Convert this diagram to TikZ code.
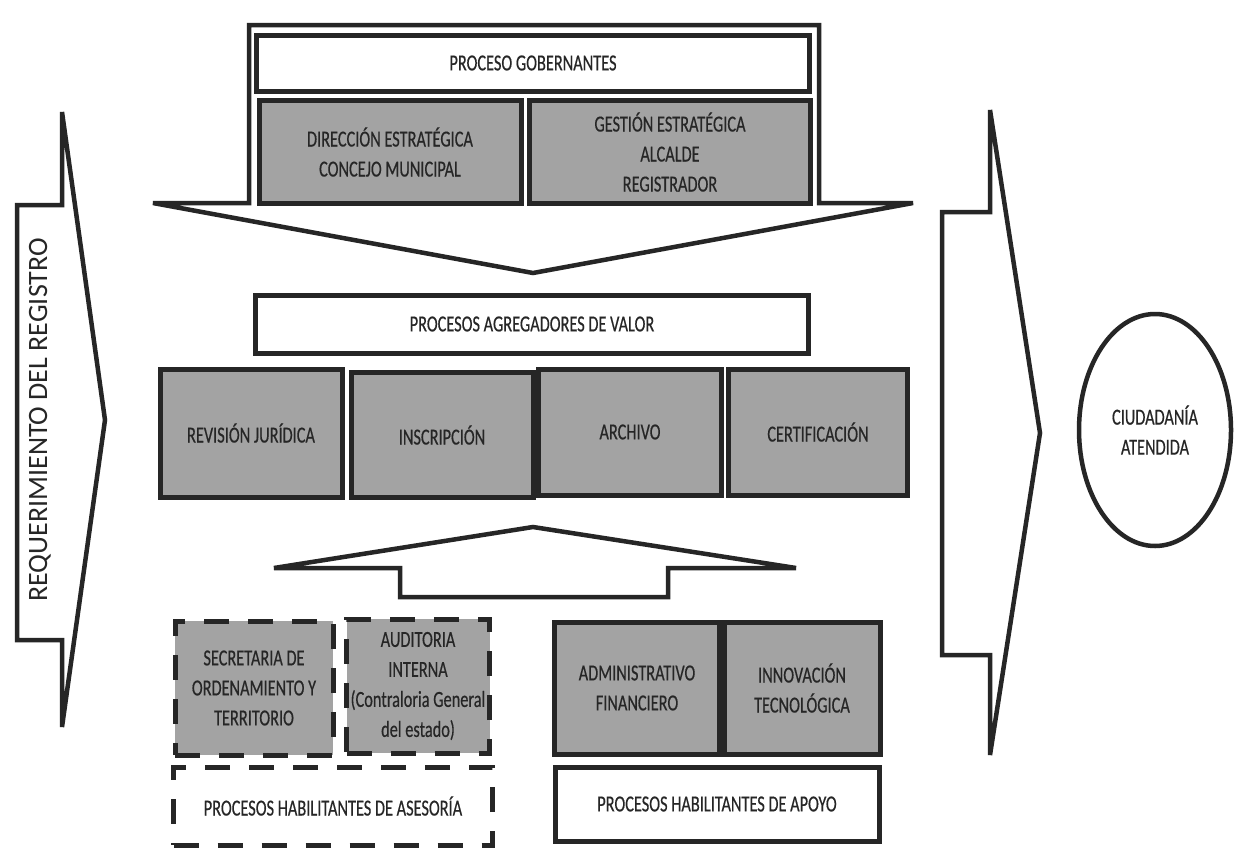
\documentclass[tikz,border=0pt]{standalone}
\usepackage{fontspec}
\setmainfont{Carlito}
\newfontfamily\condfont[FakeStretch=0.71, FakeBold=0.4]{Carlito}
\usetikzlibrary{shapes.geometric}
\definecolor{ink}{HTML}{262626}
\definecolor{boxgray}{HTML}{A3A3A3}
\tikzset{
  lbl/.style={font=\condfont\fontsize{23}{30}\selectfont, text=ink, align=center},
  gbox/.style={lbl, draw=ink, line width=5pt, fill=boxgray, inner sep=0pt},
  wbox/.style={lbl, draw=ink, line width=5pt, fill=white, inner sep=0pt},
  dgbox/.style={gbox, dash pattern=on 25pt off 19pt},
  dwbox/.style={wbox, dash pattern=on 25pt off 19pt},
  blockarrow/.style={draw=ink, line width=4.5pt, fill=white},
}
\begin{document}
\begin{tikzpicture}[x=1pt, y=-1pt]
\useasboundingbox (0,0) rectangle (1239,854);
\fill[white] (0,0) rectangle (1239,854);

% left block arrow
\draw[blockarrow] (17,205) -- (62,205) -- (62,112) -- (105,420) coordinate (ltip) -- (62,727) -- (62,640) -- (17,640) -- cycle;
\node[font=\fontsize{28}{30}\selectfont, text=ink, rotate=90] (req) at (40,420) {REQUERIMIENTO DEL REGISTRO};

% right block arrow
\draw[blockarrow] (942,212) -- (990,212) -- (990,110) -- (1040,433) coordinate (rtip) -- (990,755) -- (990,655) -- (942,655) -- cycle;

% citizen ellipse
\node[lbl, ellipse, draw=ink, line width=4.5pt, minimum width=152, minimum height=232, inner sep=0pt] (cit) at (1155,430) {CIUDADANÍA\\ATENDIDA};

% top down block arrow (governing processes)
\draw[blockarrow] (249,25) -- (819,25) -- (819,203) -- (913,203) -- (533,273) coordinate (dtip) -- (153,203) -- (249,203) -- cycle;
\node[wbox, minimum width=553, minimum height=56] (pg) at (533,63) {PROCESO GOBERNANTES};
\node[gbox, minimum width=262, minimum height=103] (de) at (390,152) {DIRECCIÓN ESTRATÉGICA\\CONCEJO MUNICIPAL};
\node[gbox, minimum width=281, minimum height=103] (ge) at (670,152) {GESTIÓN ESTRATÉGICA\\ALCALDE\\REGISTRADOR};

% value processes
\node[wbox, minimum width=553, minimum height=58] (pav) at (532,324) {PROCESOS AGREGADORES DE VALOR};
\node[gbox, minimum width=182, minimum height=128] (rj) at (251,433) {REVISIÓN JURÍDICA};
\node[gbox, minimum width=182, minimum height=125] (ins) at (442,435) {INSCRIPCIÓN};
\node[gbox, minimum width=183, minimum height=126] (arc) at (630,432) {ARCHIVO};
\node[gbox, minimum width=179, minimum height=126] (cer) at (818,432) {CERTIFICACIÓN};

% up block arrow
\draw[blockarrow] (533,527) coordinate (utip) -- (796,568) -- (668,568) -- (668,597) -- (400,597) -- (400,568) -- (274,568) -- cycle;

% advisory processes (dashed)
\node[dgbox, minimum width=158, minimum height=134] (sec) at (254,688) {SECRETARIA DE\\ORDENAMIENTO Y\\TERRITORIO};
\node[dgbox, minimum width=143, minimum height=134] (aud) at (418,686) {AUDITORIA\\INTERNA\\(Contraloria General\\del estado)};
\node[dwbox, minimum width=319, minimum height=78] (ase) at (333,806) {PROCESOS HABILITANTES DE ASESORÍA};

% support processes
\node[gbox, minimum width=165, minimum height=132] (adm) at (637,688) {ADMINISTRATIVO\\FINANCIERO};
\node[gbox, minimum width=156, minimum height=132] (inn) at (802,688) {INNOVACIÓN\\TECNOLÓGICA};
\node[wbox, minimum width=324, minimum height=74] (apo) at (717,804) {PROCESOS HABILITANTES DE APOYO};
\end{tikzpicture}
\end{document}
